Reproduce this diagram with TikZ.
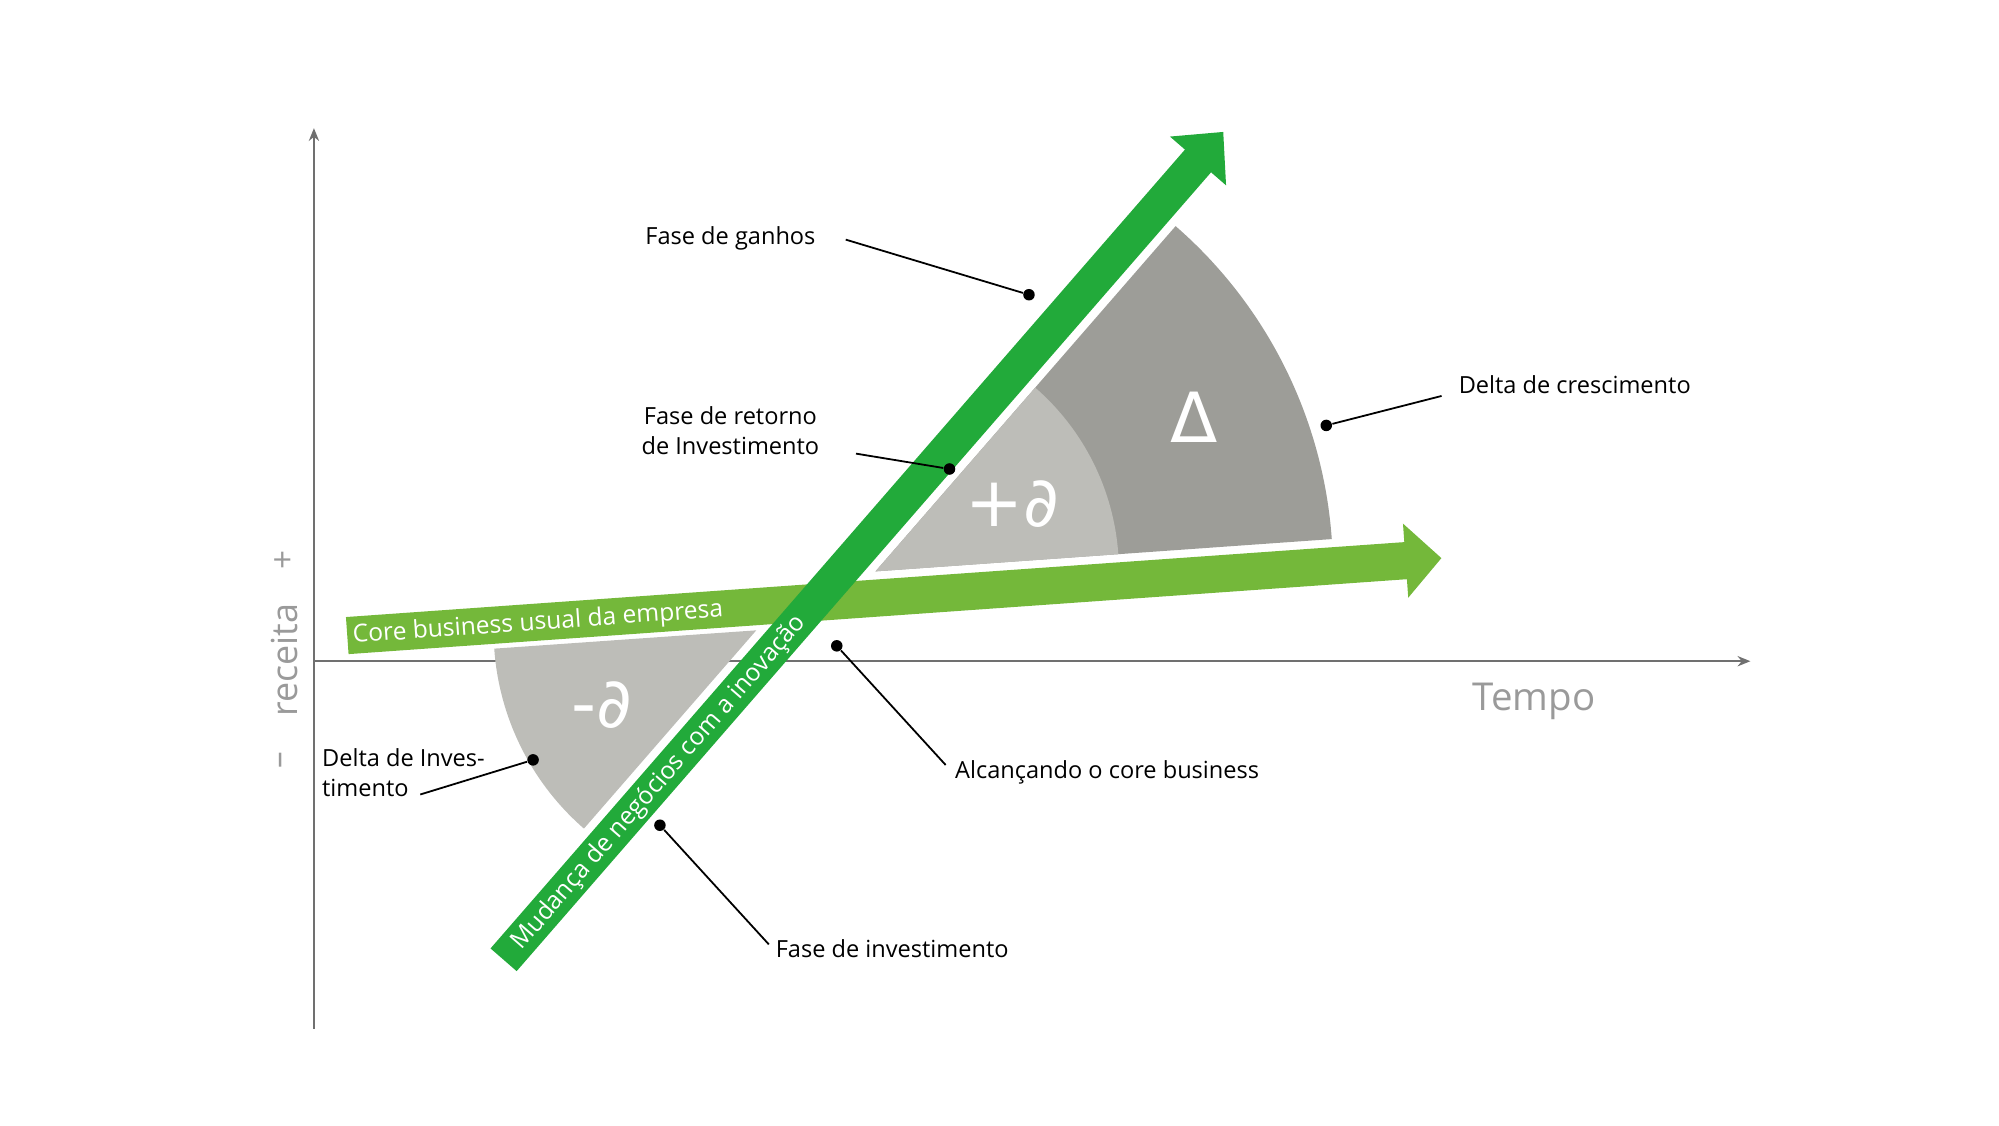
\documentclass[tikz,border=0pt]{standalone}
\usepackage{fontspec}
\setmainfont{Open Sans}
\newfontfamily\symfont{DejaVu Sans}
\usetikzlibrary{arrows.meta}
\definecolor{dgreen}{HTML}{22AA3A}
\definecolor{lgreen}{HTML}{74B83A}
\definecolor{dgray}{HTML}{9D9D98}
\definecolor{lgray}{HTML}{BDBDB8}
\definecolor{axis}{HTML}{707070}
\definecolor{tgray}{HTML}{9A9A9A}
\begin{document}
\begin{tikzpicture}[x=0.5pt,y=-0.5pt,
  lbl/.style={font=\fontsize{9.2}{12}\selectfont,text=black,inner sep=0pt},
  lead/.style={line width=0.7pt,black},
  dot/.style={circle,fill=black,inner sep=0pt,minimum size=4.5pt},
  ax/.style={axis,line width=1pt,-{Stealth[length=5pt,width=4pt]}},
  sym/.style={font=\symfont\fontsize{27}{30}\selectfont,text=white}]
\useasboundingbox (0,0) rectangle (1560,878);
% axes
\draw[ax] (245,803) -- (245,100);
\draw[ax] (245,516) -- (1366,516);
% sectors
\fill[dgray] (683.2,445.9) -- ++(-4.05:357) arc[start angle=-4.05,end angle=-49,radius=357] -- cycle;
\fill[lgray] (683.2,445.9) -- ++(-4.05:190) arc[start angle=-4.05,end angle=-49,radius=190] -- cycle;
\fill[lgray] (590.2,491.9) -- ++(176:205) arc[start angle=176,end angle=131,radius=205] -- cycle;
\node[sym] (dl) at (932,326) {Δ};
\node[sym] (pd) at (790,393) {+∂};
\node[sym] (md) at (470,550) {-∂};
% core arrow
\begin{scope}[shift={(271,496)},rotate=4.05]
\fill[lgreen] (0,-14.5) -- (828,-14.5) -- (828,-29) -- (856,0) -- (828,29) -- (828,14.5) -- (0,14.5) -- cycle;
\node[font=\fontsize{9.6}{12}\selectfont,text=white,rotate=4.05,anchor=west,inner sep=0pt] (core) at (4,1) {Core business usual da empresa};
\end{scope}
% innovation arrow
\begin{scope}[shift={(393,749)},rotate=49]
\fill[dgreen] (0,-13.5) -- (826,-13.5) -- (826,-29) -- (856,0) -- (826,29) -- (826,13.5) -- (0,13.5) -- cycle;
\node[font=\fontsize{9.6}{12}\selectfont,text=white,rotate=49,anchor=west,inner sep=0pt] (inov) at (14,1) {Mudança de negócios com a inovação};
\end{scope}
% labels
\node[lbl] (fg) at (570,186) {Fase de ganhos};
\coordinate (fgs) at (660,187); \node[dot] (fgd) at (803,230) {};
\draw[lead] (fgs) -- (fgd);
\node[lbl,align=center] (fr) at (570,336) {Fase de retorno\\de Investimento};
\coordinate (frs) at (668,354); \node[dot] (frd) at (741,366) {};
\draw[lead] (frs) -- (frd);
\node[lbl,anchor=west] (dc) at (1138,300) {Delta de crescimento};
\coordinate (dcs) at (1125,309); \node[dot] (dcd) at (1035,332) {};
\draw[lead] (dcs) -- (dcd);
\node[lbl,anchor=west,align=left] (di) at (251,603) {Delta de Inves-\\timento};
\coordinate (dis) at (328,620); \node[dot] (did) at (416,593) {};
\draw[lead] (dis) -- (did);
\node[lbl,anchor=west] (ac) at (745,603) {Alcançando o core business};
\coordinate (acs) at (738,597); \node[dot] (acd) at (653,504) {};
\draw[lead] (acs) -- (acd);
\node[lbl,anchor=west] (fi) at (605,740) {Fase de investimento};
\coordinate (fis) at (600,737); \node[dot] (fid) at (515,644) {};
\draw[lead] (fis) -- (fid);
% axis texts
\node[font=\fontsize{15}{18}\selectfont,text=tgray] (tempo) at (1197,547) {Tempo};
\node[font=\fontsize{14}{16}\selectfont,text=tgray,rotate=90] (rec) at (222,515) {receita};
\node[font=\fontsize{13}{16}\selectfont,text=tgray,rotate=90] (pl) at (222,437) {+};
\node[font=\fontsize{13}{16}\selectfont,text=tgray,rotate=90] (mi) at (222,593) {–};
\end{tikzpicture}
\end{document}
